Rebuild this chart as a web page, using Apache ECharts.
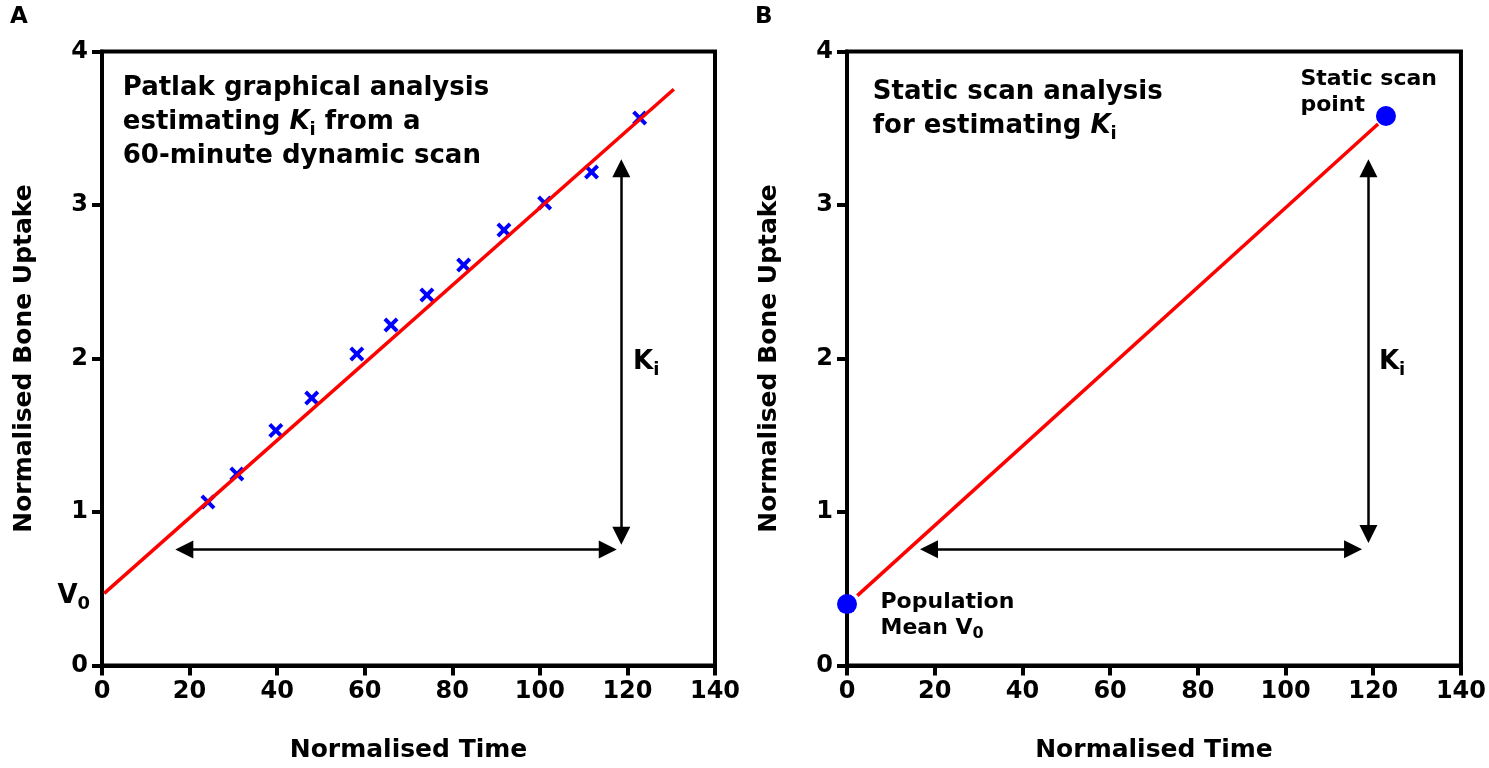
<!DOCTYPE html>
<html>
<head>
<meta charset="utf-8">
<script src="https://cdn.jsdelivr.net/npm/echarts@6/dist/echarts.min.js"></script>
<style>
html,body{margin:0;padding:0;background:#fff;}
#chart{width:1489px;height:768px;}
</style>
</head>
<body>
<div id="chart"></div>
<script>
// ---- data ----
const patlakTime   = [24.2, 30.8, 39.7, 47.9, 58.2, 66.0, 74.2, 82.6, 91.8, 101.1, 111.8, 122.8];
const patlakUptake = [1.065, 1.248, 1.531, 1.743, 2.029, 2.218, 2.414, 2.609, 2.837, 3.013, 3.215, 3.567];
const patlakFitX = [0.5, 130.6];
const patlakFitY = [0.47, 3.754];

const staticPointX = [0, 122.9];
const staticPointY = [0.40, 3.58];
const staticFitX = [2.35, 121.1];
const staticFitY = [0.455, 3.528];

// arrows: [x1, y1, x2, y2] (line end points, symbol centred at ends)
const arrowsA = [[18.8, 0.755, 115.5, 0.755], [118.6, 0.845, 118.6, 3.24]];
const arrowsB = [[18.7, 0.757, 115.4, 0.757], [118.9, 0.857, 118.9, 3.24]];

const xTickStep = 20, xMax = 140, yTickStep = 1, yMax = 4;

// ---- styling helpers ----
const FONT = 'DejaVu Sans';
const crossPath = 'path://M0,2.8L2.8,0L7.5,4.7L12.2,0L15,2.8L10.3,7.5L15,12.2L12.2,15L7.5,10.3L2.8,15L0,12.2L4.7,7.5Z';

function axisX(gi) {
  return {
    gridIndex: gi, type: 'value', min: 0, max: xMax, interval: xTickStep,
    name: 'Normalised Time', nameLocation: 'middle', nameGap: 72,
    nameTextStyle: {fontSize: 25, fontWeight: 'bold', color: '#000', fontFamily: FONT},
    axisLine: {show: true, onZero: false, lineStyle: {color: '#000', width: 4}},
    axisTick: {show: true, length: 10, lineStyle: {color: '#000', width: 4}},
    axisLabel: {fontSize: 24, fontWeight: 'bold', color: '#000', margin: 14, fontFamily: FONT},
    splitLine: {show: false}
  };
}
function axisY(gi) {
  return {
    gridIndex: gi, type: 'value', min: 0, max: yMax, interval: yTickStep,
    name: 'Normalised Bone Uptake', nameLocation: 'middle', nameGap: 65,
    nameTextStyle: {fontSize: 25, fontWeight: 'bold', color: '#000', fontFamily: FONT},
    axisLine: {show: true, onZero: false, lineStyle: {color: '#000', width: 4}},
    axisTick: {show: true, length: 10, lineStyle: {color: '#000', width: 4}},
    axisLabel: {fontSize: 24, fontWeight: 'bold', color: '#000', margin: 14, fontFamily: FONT},
    splitLine: {show: false}
  };
}
const rich = {
  b: {fontSize: 26, fontWeight: 'bold', fontFamily: FONT, color: '#000', lineHeight: 34},
  it: {fontSize: 26, fontWeight: 'bold', fontStyle: 'italic', fontFamily: FONT, color: '#000', lineHeight: 34},
  s: {fontSize: 18, fontWeight: 'bold', fontFamily: FONT, color: '#000', lineHeight: 20, verticalAlign: 'bottom'},
  m: {fontSize: 22, fontWeight: 'bold', fontFamily: FONT, color: '#000', lineHeight: 26},
  ms: {fontSize: 16, fontWeight: 'bold', fontFamily: FONT, color: '#000', lineHeight: 16, verticalAlign: 'bottom'}
};
function textItem(x, y, text, align) {
  return {
    value: [x, y],
    label: {show: true, position: [0, 0], align: align || 'left', verticalAlign: 'top', color: '#000',
            opacity: 1, formatter: text, rich: rich}
  };
}
function arrowData(arr) {
  return arr.map(a => [{coord: [a[0], a[1]]}, {coord: [a[2], a[3]]}]);
}
function arrowMarkLine(arr) {
  return {
    silent: true, animation: false,
    symbol: ['triangle', 'triangle'],
    symbolSize: 18,
    label: {show: false},
    itemStyle: {color: '#000'},
    lineStyle: {color: '#000', width: 2.5, type: 'solid', opacity: 1},
    data: arrowData(arr)
  };
}

const textA = [
  textItem(4.86, 3.868, '{b|Patlak graphical analysis}\n{b|estimating }{it|K}{s|i}{b| from a}\n{b|60-minute dynamic scan}'),
  textItem(121.4, 2.085, '{b|K}{s|i}'),
  textItem(-2.6, 0.56, '{b|V}{s|0}', 'right')
];
const textB = [
  textItem(6.0, 3.84, '{b|Static scan analysis}\n{b|for estimating }{it|K}{s|i}'),
  textItem(121.4, 2.085, '{b|K}{s|i}'),
  textItem(103.5, 3.90, '{m|Static scan}\n{m|point}'),
  textItem(7.75, 0.492, '{m|Population}\n{m|Mean V}{ms|0}')
];

const chart = echarts.init(document.getElementById('chart'));
chart.setOption({
  animation: false,
  backgroundColor: '#fff',
  textStyle: {color: '#000', fontFamily: FONT},
  title: [
    {text: 'A', left: 10, top: 6, padding: 0, textStyle: {fontSize: 23, fontWeight: 'bold', color: '#000', fontFamily: FONT}},
    {text: 'B', left: 755, top: 6, padding: 0, textStyle: {fontSize: 23, fontWeight: 'bold', color: '#000', fontFamily: FONT}}
  ],
  grid: [
    {left: 102, top: 51.5, width: 613, height: 614, show: true, borderColor: '#000', borderWidth: 4, backgroundColor: 'transparent'},
    {left: 847, top: 51.5, width: 614, height: 614, show: true, borderColor: '#000', borderWidth: 4, backgroundColor: 'transparent'}
  ],
  xAxis: [axisX(0), axisX(1)],
  yAxis: [axisY(0), axisY(1)],
  series: [
    {
      type: 'line', xAxisIndex: 0, yAxisIndex: 0, symbol: 'none', silent: true,
      lineStyle: {color: '#ff0000', width: 3.5},
      data: patlakFitX.map((x, i) => [x, patlakFitY[i]]),
      markLine: arrowMarkLine(arrowsA)
    },
    {
      type: 'scatter', xAxisIndex: 0, yAxisIndex: 0, symbol: crossPath, symbolSize: 15, clip: false, silent: true,
      itemStyle: {color: '#0000ff', opacity: 1},
      data: patlakTime.map((x, i) => [x, patlakUptake[i]])
    },
    {
      type: 'scatter', xAxisIndex: 0, yAxisIndex: 0, symbolSize: 1, clip: false, silent: true,
      itemStyle: {color: 'transparent', opacity: 1},
      data: textA
    },
    {
      type: 'line', xAxisIndex: 1, yAxisIndex: 1, symbol: 'none', silent: true,
      lineStyle: {color: '#ff0000', width: 3.5},
      data: staticFitX.map((x, i) => [x, staticFitY[i]]),
      markLine: arrowMarkLine(arrowsB)
    },
    {
      type: 'scatter', xAxisIndex: 1, yAxisIndex: 1, symbol: 'circle', symbolSize: 20, clip: false, silent: true,
      itemStyle: {color: '#0000ff', opacity: 1},
      data: staticPointX.map((x, i) => [x, staticPointY[i]])
    },
    {
      type: 'scatter', xAxisIndex: 1, yAxisIndex: 1, symbolSize: 1, clip: false, silent: true,
      itemStyle: {color: 'transparent', opacity: 1},
      data: textB
    }
  ]
});
</script>
</body>
</html>
